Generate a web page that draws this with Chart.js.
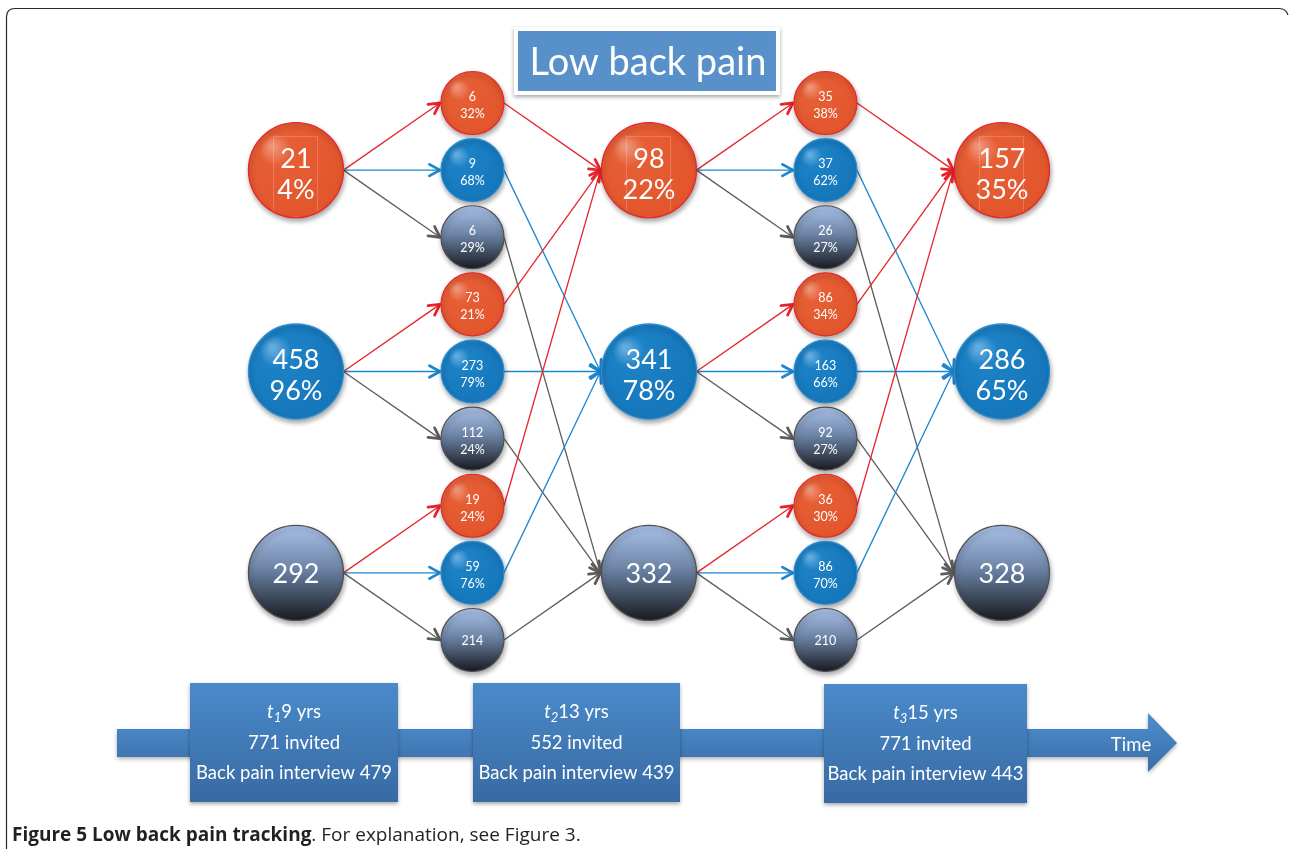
<!DOCTYPE html>
<html>
<head>
<meta charset="utf-8">
<script src="https://cdn.jsdelivr.net/npm/chart.js@4.4.0/dist/chart.umd.min.js"></script>
<style>
    html, body { margin: 0; padding: 0; background: #fff; }
    #wrap { width: 1290px; height: 849px; position: relative; }
</style>
</head>
<body>
<div id="wrap"><canvas id="flowChart"></canvas></div>
<script>
    // states: 0 = low back pain, 1 = no low back pain, 2 = not interviewed
    const title = 'Low back pain';
    const waveAges = ['9 yrs', '13 yrs', '15 yrs'];
    const waveInvited = [771, 552, 771];
    const waveInterviewed = [479, 439, 443];

    // people in each state at each wave
    const waveCounts = [[21, 458, 292], [98, 341, 332], [157, 286, 328]];
    const wavePercents = [['4%', '96%', ''], ['22%', '78%', ''], ['35%', '65%', '']];

    // transitions wave1 -> wave2, [from state][to state]
    const transCounts1 = [[6, 9, 6], [73, 273, 112], [19, 59, 214]];
    const transPercents1 = [['32%', '68%', '29%'], ['21%', '79%', '24%'], ['24%', '76%', '']];
    // transitions wave2 -> wave3
    const transCounts2 = [[35, 37, 26], [86, 163, 92], [36, 86, 210]];
    const transPercents2 = [['38%', '62%', '27%'], ['34%', '66%', '27%'], ['30%', '70%', '']];

    const caption = ['Figure 5 Low back pain tracking', '. For explanation, see Figure 3.'];

    const lineColors = ['#e5242b', '#1d86cf', '#5c5c5c'];
    const borderColors = ['#e8262c', '#2a8ed4', '#505050'];
    const BIG_R = 47.5;
    const SMALL_R = 31.5;

    // build points (column index on x, slot index on y)
    const bigPoints = [];
    waveCounts.forEach((counts, w) => {
        counts.forEach((c, s) => {
            bigPoints.push({ x: 2 * w, y: 3 * s + 1, count: c, pct: wavePercents[w][s], state: s });
        });
    });
    const smallPoints = [];
    [[transCounts1, transPercents1], [transCounts2, transPercents2]].forEach(([counts, pcts], t) => {
        counts.forEach((row, f) => {
            row.forEach((c, k) => {
                smallPoints.push({ x: 2 * t + 1, y: 3 * f + k, count: c, pct: pcts[f][k], state: k, from: f });
            });
        });
    });

    function nodeFill(ctx) {
        if (!ctx.raw || !ctx.chart.chartArea) return '#888';
        const chart = ctx.chart;
        const c = chart.ctx;
        const x = chart.scales.x.getPixelForValue(ctx.raw.x);
        const y = chart.scales.y.getPixelForValue(ctx.raw.y);
        const r = ctx.datasetIndex === 0 ? BIG_R : SMALL_R;
        const s = ctx.raw.state;
        if (s === 2) {
            const g = c.createLinearGradient(0, y - r, 0, y + r);
            g.addColorStop(0, '#a9c2e8');
            g.addColorStop(0.45, '#6d84a6');
            g.addColorStop(1, '#181b21');
            return g;
        }
        const g = c.createRadialGradient(x - r * 0.5, y - r * 0.5, r * 0.05, x - r * 0.2, y - r * 0.2, r * 1.2);
        if (s === 0) {
            g.addColorStop(0, '#ee9376');
            g.addColorStop(0.25, '#e65e35');
            g.addColorStop(1, '#e3562c');
        } else {
            g.addColorStop(0, '#62abde');
            g.addColorStop(0.25, '#1c81c5');
            g.addColorStop(1, '#1677bb');
        }
        return g;
    }

    function arrowHead(c, x1, y1, x2, y2, color) {
        const a = Math.atan2(y2 - y1, x2 - x1);
        const len = 12, spread = 0.5;
        c.save();
        c.strokeStyle = color;
        c.lineWidth = 2.8;
        c.lineCap = 'round';
        c.lineJoin = 'round';
        c.beginPath();
        c.moveTo(x2 - len * Math.cos(a - spread), y2 - len * Math.sin(a - spread));
        c.lineTo(x2, y2);
        c.lineTo(x2 - len * Math.cos(a + spread), y2 - len * Math.sin(a + spread));
        c.stroke();
        c.restore();
    }

    function edge(c, x1, y1, x2, y2, color) {
        c.save();
        c.strokeStyle = color;
        c.lineWidth = 1.3;
        c.beginPath();
        c.moveTo(x1, y1);
        c.lineTo(x2, y2);
        c.stroke();
        c.restore();
        arrowHead(c, x1, y1, x2, y2, color);
    }

    const flowPlugin = {
        id: 'flow',
        beforeDatasetsDraw(chart) {
            const c = chart.ctx;
            const big = chart.getDatasetMeta(0).data;
            const small = chart.getDatasetMeta(1).data;
            // frame
            c.save();
            c.strokeStyle = '#2a2a2a';
            c.lineWidth = 1.2;
            c.beginPath();
            c.moveTo(6.5, 849);
            c.lineTo(6.5, 17);
            c.quadraticCurveTo(6.5, 8.5, 15, 8.5);
            c.lineTo(1279, 8.5);
            c.quadraticCurveTo(1286, 8.5, 1288, 15);
            c.stroke();
            c.restore();
            // edges
            smallPoints.forEach((p, i) => {
                const t = (p.x - 1) / 2;
                const src = big[t * 3 + p.from];
                const mid = small[i];
                const dst = big[(t + 1) * 3 + p.state];
                const col = lineColors[p.state];
                edge(c, src.x + BIG_R, src.y, mid.x - SMALL_R - 1, mid.y, col);
                edge(c, mid.x + SMALL_R, mid.y, dst.x - BIG_R - 1, dst.y, col);
            });
        },
        beforeDatasetDraw(chart) {
            const c = chart.ctx;
            c.save();
            c.shadowColor = 'rgba(0,0,0,0.35)';
            c.shadowBlur = 5;
            c.shadowOffsetX = 1;
            c.shadowOffsetY = 3;
        },
        afterDatasetDraw(chart) {
            chart.ctx.restore();
        },
        afterDatasetsDraw(chart) {
            const c = chart.ctx;
            const big = chart.getDatasetMeta(0).data;
            const small = chart.getDatasetMeta(1).data;
            c.save();
            c.fillStyle = '#fff';
            c.textAlign = 'center';
            c.textBaseline = 'middle';

            // big node labels
            bigPoints.forEach((p, i) => {
                const el = big[i];
                if (p.state === 0) {
                    c.save();
                    c.beginPath();
                    c.arc(el.x, el.y, BIG_R - 1, 0, Math.PI * 2);
                    c.clip();
                    c.strokeStyle = 'rgba(255,255,255,0.2)';
                    c.lineWidth = 1;
                    c.strokeRect(el.x - 22.5, el.y - 33.5, 44, 80);
                    c.restore();
                }
                c.font = '27px Lato';
                if (p.pct) {
                    c.fillText(String(p.count), el.x, el.y - 11);
                    c.fillText(p.pct, el.x, el.y + 20);
                } else {
                    c.fillText(String(p.count), el.x, el.y + 1);
                }
            });
            // small node labels
            smallPoints.forEach((p, i) => {
                const el = small[i];
                c.font = '12.5px Lato';
                if (p.pct) {
                    c.fillText(String(p.count), el.x, el.y - 6);
                    c.fillText(p.pct, el.x, el.y + 11);
                } else {
                    c.fillText(String(p.count), el.x, el.y + 1);
                }
            });

            // title box
            const tx = chart.scales.x.getPixelForValue(2);
            c.save();
            c.shadowColor = 'rgba(0,0,0,0.35)';
            c.shadowBlur = 4;
            c.shadowOffsetY = 2;
            c.fillStyle = '#ffffff';
            c.fillRect(tx - 135, 27, 266, 68);
            c.restore();
            c.fillStyle = '#5891ca';
            c.fillRect(tx - 131, 31, 258, 60);
            c.fillStyle = '#fff';
            c.font = '38px Lato';
            c.fillText(title, tx - 1, 63);

            // timeline arrow
            c.save();
            c.shadowColor = 'rgba(0,0,0,0.3)';
            c.shadowBlur = 4;
            c.shadowOffsetY = 2;
            let g = c.createLinearGradient(0, 713, 0, 772);
            g.addColorStop(0, '#4f8ecf');
            g.addColorStop(1, '#3a6ea8');
            c.fillStyle = g;
            c.beginPath();
            c.moveTo(117, 729);
            c.lineTo(1148, 729);
            c.lineTo(1148, 713);
            c.lineTo(1177, 743);
            c.lineTo(1148, 772);
            c.lineTo(1148, 757);
            c.lineTo(117, 757);
            c.closePath();
            c.fill();
            c.restore();
            c.fillStyle = '#fff';
            c.font = '18.5px Lato';
            c.fillText('Time', 1131, 745);

            // wave boxes
            const boxes = [[190, 398, 683], [473, 680, 683], [824, 1027, 684]];
            boxes.forEach(([x0, x1, y0], w) => {
                c.save();
                c.shadowColor = 'rgba(0,0,0,0.35)';
                c.shadowBlur = 4;
                c.shadowOffsetY = 2;
                const bg = c.createLinearGradient(0, y0, 0, y0 + 119);
                bg.addColorStop(0, '#4a8aca');
                bg.addColorStop(1, '#386aa3');
                c.fillStyle = bg;
                c.fillRect(x0, y0, x1 - x0, 119);
                c.restore();
                const cx = (x0 + x1) / 2;
                c.fillStyle = '#fff';
                // first line: t (italic) + subscript + age
                c.textAlign = 'left';
                c.font = 'italic 18.5px Lato';
                const wT = c.measureText('t').width;
                c.font = 'italic 13px Lato';
                const wSub = c.measureText(String(w + 1)).width;
                c.font = '18.5px Lato';
                const wAge = c.measureText(waveAges[w]).width;
                let sx = cx - (wT + wSub + wAge) / 2;
                c.font = 'italic 18.5px Lato';
                c.fillText('t', sx, y0 + 29);
                sx += wT;
                c.font = 'italic 13px Lato';
                c.fillText(String(w + 1), sx, y0 + 35);
                sx += wSub;
                c.font = '18.5px Lato';
                c.fillText(waveAges[w], sx, y0 + 29);
                c.textAlign = 'center';
                c.fillText(waveInvited[w] + ' invited', cx, y0 + 60);
                c.fillText('Back pain interview ' + waveInterviewed[w], cx, y0 + 90);
            });

            // caption
            c.textAlign = 'left';
            c.fillStyle = '#231f20';
            c.font = 'bold 19px "Open Sans"';
            c.fillText(caption[0], 12, 836);
            const capW = c.measureText(caption[0]).width;
            c.font = '19px "Open Sans"';
            c.fillText(caption[1], 12 + capW, 836);
            c.restore();
        }
    };

    document.addEventListener('DOMContentLoaded', function () {
        const chart = document.getElementById('flowChart').getContext('2d');
        new Chart(chart, {
            type: 'scatter',
            data: {
                datasets: [{
                    label: 'waves',
                    data: bigPoints,
                    pointRadius: BIG_R,
                    pointHoverRadius: BIG_R,
                    backgroundColor: nodeFill,
                    borderColor: (ctx) => ctx.raw ? borderColors[ctx.raw.state] : '#000',
                    borderWidth: 1.3
                }, {
                    label: 'transitions',
                    data: smallPoints,
                    pointRadius: SMALL_R,
                    pointHoverRadius: SMALL_R,
                    backgroundColor: nodeFill,
                    borderColor: (ctx) => ctx.raw ? borderColors[ctx.raw.state] : '#000',
                    borderWidth: 1.2
                }]
            },
            options: {
                responsive: true,
                maintainAspectRatio: false,
                animation: false,
                layout: { padding: 0, autoPadding: false },
                clip: false,
                scales: {
                    x: { type: 'linear', display: false, min: -1.677, max: 5.632 },
                    y: { type: 'linear', display: false, reverse: true, min: -1.5345, max: 11.114 }
                },
                plugins: {
                    legend: { display: false },
                    tooltip: { enabled: false }
                },
                events: []
            },
            plugins: [flowPlugin]
        });
    });
</script>
</body>
</html>
